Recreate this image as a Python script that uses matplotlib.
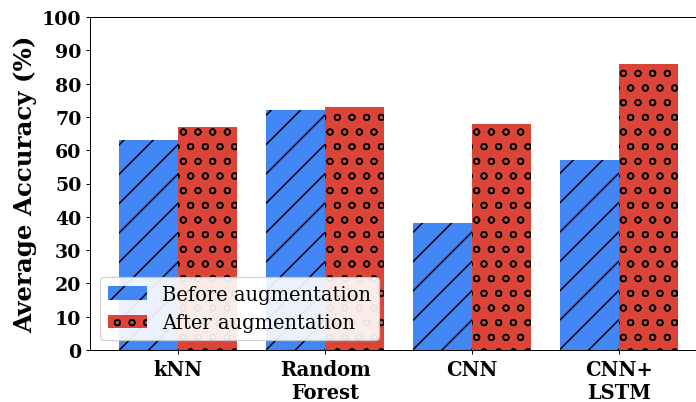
import matplotlib
matplotlib.use('Agg')
import matplotlib.pyplot as plt
import numpy as np

models = ['kNN', 'Random\nForest', 'CNN', 'CNN+\nLSTM']
before_aug = [63, 72, 38, 57]
after_aug = [67, 73, 68, 86]
series_labels = ['Before augmentation', 'After augmentation']

plt.rcParams['font.family'] = 'DejaVu Serif'
plt.rcParams['hatch.linewidth'] = 1.2

dpi = 88
fig = plt.figure(figsize=(696 / dpi, 403 / dpi), dpi=dpi)
ax = fig.add_axes([90 / 696, 52 / 403, 617 / 696, 333 / 403])

x = np.arange(len(models))
width = 0.4
ax.bar(x - width / 2, before_aug, width, color='#4285F4', hatch='/',
       linewidth=0, label=series_labels[0])
ax.bar(x + width / 2, after_aug, width, color='#DB4437', hatch='o',
       linewidth=0, label=series_labels[1])

ax.set_xlim(-0.6, len(models) - 0.4)
ax.set_ylim(0, 100)
ax.set_yticks(np.arange(0, 101, 10))
ax.set_xticks(x)
ax.set_xticklabels(models, fontsize=16, fontweight='bold')
for lbl in ax.get_yticklabels():
    lbl.set_fontsize(15.5)
    lbl.set_fontweight('bold')
ax.set_ylabel('Average Accuracy (%)', fontsize=20, fontweight='bold')

ax.legend(loc='lower left', fontsize=16, framealpha=0.9)

fig.savefig('out.png', dpi=dpi)
